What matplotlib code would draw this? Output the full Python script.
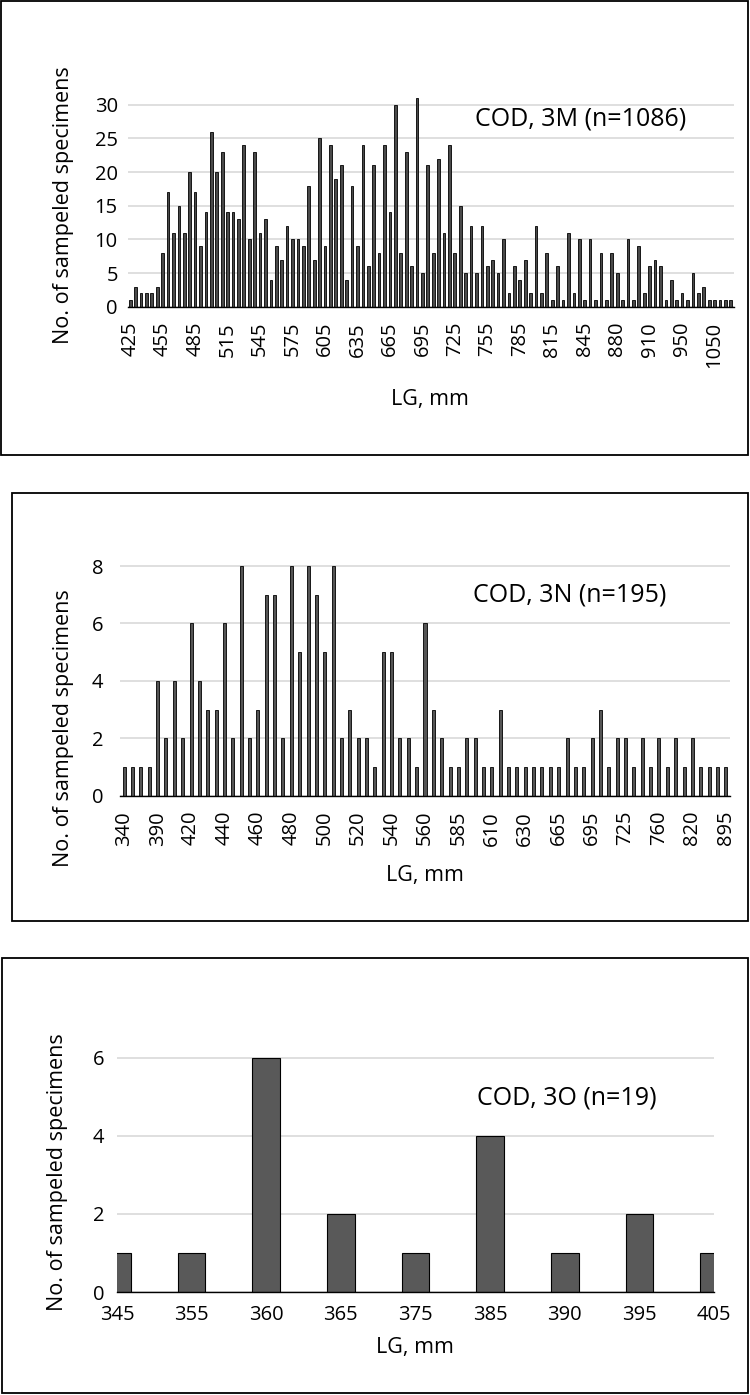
import matplotlib.pyplot as plt
from matplotlib.patches import Rectangle

# --- data ---------------------------------------------------------------
# COD 3M, one bar per length class (5 mm classes, every 6th labelled)
m_counts = [1, 3, 2, 2, 2, 3, 8, 17, 11, 15, 11, 20, 17, 9, 14, 26, 20, 23, 14, 14,
            13, 24, 10, 23, 11, 13, 4, 9, 7, 12, 10, 10, 9, 18, 7, 25, 9, 24, 19, 21,
            4, 18, 9, 24, 6, 21, 8, 24, 14, 30, 8, 23, 6, 31, 5, 21,
            8, 22, 11, 24, 8, 15, 5, 12, 5, 12, 6, 7, 5, 10, 2, 6, 4, 7, 2, 12,
            2, 8, 1, 6, 1, 11, 2, 10, 1, 10, 1, 8, 1, 8, 5, 1, 10, 1, 9, 2,
            6, 7, 6, 1, 4, 1, 2, 1, 5, 2, 3, 1, 1, 1, 1, 1]
m_ticklabels = ['425', '455', '485', '515', '545', '575', '605', '635', '665', '695',
                '725', '755', '785', '815', '845', '880', '910', '950', '1050']

# COD 3N (every 4th class labelled)
n_counts = [1, 1, 1, 1, 4, 2, 4, 2, 6, 4, 3, 3, 6, 2, 8, 2, 3, 7, 7, 2,
            8, 5, 8, 7, 5, 8, 2, 3, 2, 2, 1, 5, 5, 2, 2, 1, 6,
            3, 2, 1, 1, 2, 2, 1, 1, 3, 1, 1, 1, 1, 1, 1, 1, 2, 1, 1,
            2, 3, 1, 2, 2, 1, 2, 1, 2, 1, 2, 1, 2, 1, 1, 1, 1]
n_ticklabels = ['340', '390', '420', '440', '460', '480', '500', '520', '540', '560',
                '585', '610', '630', '665', '695', '725', '760', '820', '895']

# COD 3O
o_lengths = ['345', '355', '360', '365', '375', '385', '390', '395', '405']
o_counts = [1, 1, 6, 2, 1, 4, 1, 2, 1]

W, H = 750, 1395
plt.rcParams['font.family'] = ['Open Sans', 'DejaVu Sans']
TICK_SIZE = 14.5
AXTITLE_SIZE = 15.5

fig = plt.figure(figsize=(W / 100, H / 100), dpi=100)


def add_box(x0, y0, x1, y1):
    # Rahmen um jedes Diagramm, in Pixeln angegeben
    fig.patches.append(Rectangle((x0 / W, 1 - y1 / H), (x1 - x0) / W, (y1 - y0) / H,
                                 transform=fig.transFigure, fill=False,
                                 edgecolor='black', linewidth=1.3))


def add_panel(left, top, right, bottom):
    ax = fig.add_axes([left / W, 1 - bottom / H, (right - left) / W, (bottom - top) / H])
    for side in ['top', 'right', 'left']:
        ax.spines[side].set_visible(False)
    ax.spines['bottom'].set_color('black')
    ax.spines['bottom'].set_linewidth(1.0)
    ax.yaxis.grid(True, color='#d9d9d9', linewidth=1.2)
    ax.set_axisbelow(True)
    ax.tick_params(length=0, labelsize=TICK_SIZE, colors='black')
    return ax


def label_texts(ylab_xy, xlab_xy, title_xy, title):
    fig.text(ylab_xy[0] / W, 1 - ylab_xy[1] / H, 'No. of sampeled specimens',
             rotation=90, ha='center', va='center', fontsize=AXTITLE_SIZE)
    fig.text(xlab_xy[0] / W, 1 - xlab_xy[1] / H, 'LG, mm',
             ha='center', va='center', fontsize=AXTITLE_SIZE)
    fig.text(title_xy[0] / W, 1 - title_xy[1] / H, title,
             ha='center', va='center', fontsize=18)


# --- panel 1: 3M --------------------------------------------------------
add_box(1, 1, 748, 455)
ax1 = add_panel(127.5, 94.6, 733.5, 306.7)
ax1.bar(range(len(m_counts)), m_counts, width=0.5, color='#4a4a4a',
        edgecolor='black', linewidth=0.6)
ax1.set_xlim(-0.5, len(m_counts) - 0.5)
ax1.set_ylim(0, 31.5)
ax1.set_yticks(range(0, 31, 5))
ax1.set_xticks(range(0, len(m_counts), 6))
ax1.set_xticklabels(m_ticklabels, rotation=90)
ax1.tick_params(axis='x', pad=11)
ax1.tick_params(axis='y', pad=7)
label_texts((63, 205), (430, 399), (581, 119), 'COD, 3M (n=1086)')

# --- panel 2: 3N --------------------------------------------------------
add_box(12, 493, 748, 921)
ax2 = add_panel(120, 560.3, 730, 795.7)
ax2.bar(range(len(n_counts)), n_counts, width=0.36, color='#555555',
        edgecolor='black', linewidth=0.6)
ax2.set_xlim(-0.5, len(n_counts) - 0.5)
ax2.set_ylim(0, 8.2)
ax2.set_yticks(range(0, 9, 2))
ax2.set_xticks(range(0, len(n_counts), 4))
ax2.set_xticklabels(n_ticklabels, rotation=90)
ax2.tick_params(axis='x', pad=11)
ax2.tick_params(axis='y', pad=12)
label_texts((63, 728), (425, 875), (570, 595), 'COD, 3N (n=195)')

# --- panel 3: 3O --------------------------------------------------------
add_box(2, 958, 748, 1393)
ax3 = add_panel(117, 1056, 714, 1292)
ax3.bar(range(len(o_counts)), o_counts, width=0.37, color='#595959',
        edgecolor='black', linewidth=0.8)
ax3.set_xlim(0, len(o_counts) - 1)
ax3.set_ylim(0, 6.05)
ax3.set_yticks(range(0, 7, 2))
ax3.set_xticks(range(len(o_counts)))
ax3.set_xticklabels(o_lengths)
ax3.tick_params(axis='x', pad=9)
ax3.tick_params(axis='y', pad=9)
label_texts((58, 1172), (415, 1348), (567, 1098), 'COD, 3O (n=19)')

fig.savefig('out.png', dpi=100)
